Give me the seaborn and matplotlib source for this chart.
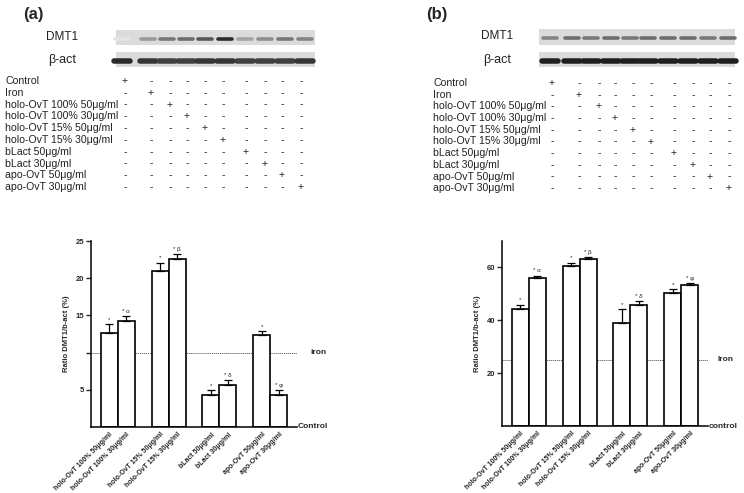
import matplotlib
matplotlib.use('Agg')
import matplotlib.pyplot as plt
from matplotlib.patches import Rectangle
import pandas as pd
import seaborn as sns

# treatments in the +/- table
treatments = ['Control', 'Iron', 'holo-OvT 100% 50μg/ml', 'holo-OvT 100% 30μg/ml',
              'holo-OvT 15% 50μg/ml', 'holo-OvT 15% 30μg/ml', 'bLact 50μg/ml',
              'bLact 30μg/ml', 'apo-OvT 50μg/ml', 'apo-OvT 30μg/ml']
groups = treatments[2:]

# bar values (ratio DMT1/b-act %) and sem
ratio_a = [12.6, 14.3, 21.0, 22.6, 4.3, 5.6, 12.3, 4.3]
sem_a = [1.2, 0.6, 1.1, 0.6, 0.7, 0.7, 0.6, 0.7]
iron_a = 10
ratio_b = [44.4, 56.0, 60.5, 63.1, 38.8, 45.9, 50.4, 53.2]
sem_b = [1.5, 0.9, 1.3, 0.9, 5.4, 1.4, 1.3, 0.8]
iron_b = 25
marks = ['*', '* α', '*', '* β', '*', '* δ', '*', '* φ']

# band darkness of the blots (0 = none, 1 = black)
dmt1_a = [0.12, 0.45, 0.6, 0.65, 0.75, 0.95, 0.4, 0.5, 0.6, 0.55]
bact_a = [0.95, 0.9, 0.85, 0.85, 0.9, 0.9, 0.85, 0.85, 0.85, 0.9]
dmt1_b = [0.55, 0.65, 0.6, 0.65, 0.6, 0.65, 0.65, 0.65, 0.6, 0.65]
bact_b = [1.0, 1.0, 1.0, 1.0, 1.0, 1.0, 1.0, 1.0, 1.0, 1.0]

W, H = 744, 493
sns.set_theme(style='white')
plt.rcParams['font.family'] = ['Liberation Sans', 'DejaVu Sans']

fig = plt.figure(figsize=(W / 100, H / 100), dpi=100)
top = fig.add_axes([0, 0, 1, 1])
top.set_xlim(0, W)
top.set_ylim(H, 0)
top.axis('off')
top.patch.set_visible(False)

panels = [
    dict(tag='(a)', tag_xy=(33, 14), name_x=62, box=(116, 315), dmt_y=(30, 45), act_y=(52, 67),
         lanes=[122, 148, 167, 186, 205, 225, 245, 265, 285, 305],
         cols=[125, 151, 170, 187, 205, 223, 246, 265, 282, 301],
         lab_x=5, row0=81, step=11.8, chart=(91, 241, 297, 427),
         dmt=dmt1_a, act=bact_a, ratio=ratio_a, sem=sem_a, iron=iron_a,
         ymax=25, yticks=[5, 10, 15, 20, 25], ylabels=['5', '', '15', '20', '25'],
         ctrl='Control', iron_lab='iron', iron_dx=13),
    dict(tag='(b)', tag_xy=(437, 14), name_x=497, box=(539, 735), dmt_y=(29, 45), act_y=(52, 67),
         lanes=[550, 572, 591, 611, 630, 648, 668, 688, 708, 728],
         cols=[552, 579, 599, 615, 633, 651, 674, 693, 710, 729],
         lab_x=433, row0=83, step=11.7, chart=(502, 241, 708, 426),
         dmt=dmt1_b, act=bact_b, ratio=ratio_b, sem=sem_b, iron=iron_b,
         ymax=70, yticks=[20, 40, 60], ylabels=['20', '40', '60'],
         ctrl='control', iron_lab='Iron', iron_dx=9),
]

for p in panels:
    top.text(*p['tag_xy'], p['tag'], fontsize=12, fontweight='bold', ha='center', va='center')
    top.text(p['name_x'], (p['dmt_y'][0] + p['dmt_y'][1]) / 2 - 1, 'DMT1', fontsize=8.5,
             ha='center', va='center', color='#222222')
    top.text(p['name_x'], (p['act_y'][0] + p['act_y'][1]) / 2, 'β-act', fontsize=9,
             ha='center', va='center', color='#222222')

    # blots
    x0, x1 = p['box']
    for (y0, y1), dens, th, hw in [(p['dmt_y'], p['dmt'], 3.6, 7), (p['act_y'], p['act'], 5.5, 8)]:
        top.add_patch(Rectangle((x0, y0), x1 - x0, y1 - y0, color='0.86', lw=0))
        for lx, d in zip(p['lanes'], dens):
            top.plot([lx - hw, lx + hw], [(y0 + y1) / 2 + 1, (y0 + y1) / 2 + 1], color=str(1 - 0.88 * d),
                     lw=th * 0.72, solid_capstyle='round')

    # +/- table
    for i, t in enumerate(treatments):
        y = p['row0'] + i * p['step']
        top.text(p['lab_x'], y, t, fontsize=7.6, ha='left', va='center', color='#222222')
        for j, cx in enumerate(p['cols']):
            top.text(cx, y, '+' if i == j else '-', fontsize=7.6, ha='center', va='center', color='#222222')

    # bar chart
    cx0, cy0, cx1, cy1 = p['chart']
    ax = fig.add_axes([cx0 / W, 1 - cy1 / H, (cx1 - cx0) / W, (cy1 - cy0) / H])
    ax.patch.set_visible(False)
    df = pd.DataFrame({'group': groups, 'ratio': p['ratio']})
    order = groups[0:2] + [' '] + groups[2:4] + ['  '] + groups[4:6] + ['   '] + groups[6:8]
    sns.barplot(data=df, x='group', y='ratio', order=order, width=1, color='white',
                saturation=1, edgecolor='black', linewidth=1.2, errorbar=None, ax=ax)
    bars = sorted(ax.patches, key=lambda b: b.get_x())
    xc = [b.get_x() + b.get_width() / 2 for b in bars]
    ax.errorbar(xc, p['ratio'], yerr=[[0] * len(xc), p['sem']], fmt='none', ecolor='black',
                elinewidth=0.9, capsize=3, capthick=0.9, zorder=3)
    for x, v, e, m in zip(xc, p['ratio'], p['sem'], marks):
        ax.text(x, v + e + p['ymax'] * 0.012, m, fontsize=4.5, ha='center', va='bottom')
    ax.axhline(p['iron'], color='0.4', ls=(0, (1.2, 0.8)), lw=0.7, zorder=0)

    ax.set_xlim(-1.06, 11.06)
    ax.set_ylim(0, p['ymax'])
    ax.set_yticks(p['yticks'])
    ax.set_yticklabels(p['ylabels'], fontsize=5.5, fontweight='bold')
    ax.set_xticks(xc)
    ax.set_xticklabels(groups, rotation=45, ha='right', va='top', rotation_mode='anchor',
                       fontsize=5, fontweight='bold')
    ax.tick_params(axis='x', length=0, pad=3)
    ax.tick_params(axis='y', length=3.5, width=1, pad=1.5, direction='out', left=True)
    ax.set_xlabel('')
    ax.set_ylabel('Ratio DMT1/b-act (%)', fontsize=5.5, fontweight='bold', labelpad=4)
    sns.despine(ax=ax)
    for s in ['left', 'bottom']:
        ax.spines[s].set_linewidth(1.1)
        ax.spines[s].set_color('black')
    ax.text(1.005, 0, p['ctrl'], transform=ax.get_yaxis_transform(), fontsize=6,
            fontweight='bold', ha='left', va='center')
    ax.text(1 + p['iron_dx'] / (cx1 - cx0), p['iron'], p['iron_lab'], transform=ax.get_yaxis_transform(),
            fontsize=6, fontweight='bold', ha='left', va='center')

fig.savefig('out.png', dpi=100)
